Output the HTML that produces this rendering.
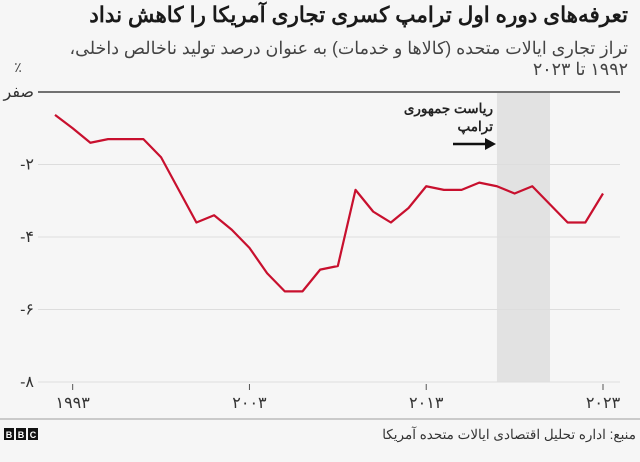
<!DOCTYPE html>
<html><head><meta charset="utf-8">
<style>
body{margin:0;background:#f6f6f6;width:640px;height:462px;overflow:hidden;font-family:"Liberation Sans","Noto Sans CJK SC",sans-serif;}
#wrap{position:relative;width:640px;height:462px;}
.t{position:absolute;right:12px;direction:rtl;text-align:right;white-space:nowrap;}
</style></head><body>
<div id="wrap">
<div class="t" style="top:3px;font-size:21.5px;font-weight:bold;color:#1a1a1a;">تعرفه‌های دوره اول ترامپ کسری تجاری آمریکا را کاهش نداد</div>
<div class="t" style="top:38px;font-size:17.5px;line-height:21px;color:#444;">تراز تجاری ایالات متحده (کالاها و خدمات) به عنوان درصد تولید ناخالص داخلی،<br>۱۹۹۲ تا ۲۰۲۳</div>
<svg id="chart" width="640" height="462" style="position:absolute;left:0;top:0"></svg>
</div>
<script>
const years=[1992,1993,1994,1995,1996,1997,1998,1999,2000,2001,2002,2003,2004,2005,2006,2007,2008,2009,2010,2011,2012,2013,2014,2015,2016,2017,2018,2019,2020,2021,2022,2023];
const balance=[-0.63,-1.0,-1.4,-1.3,-1.3,-1.3,-1.8,-2.7,-3.6,-3.4,-3.8,-4.3,-5.0,-5.5,-5.5,-4.9,-4.8,-2.7,-3.3,-3.6,-3.2,-2.6,-2.7,-2.7,-2.5,-2.6,-2.8,-2.6,-3.1,-3.6,-3.6,-2.8];
const yTicks=[0,-2,-4,-6,-8];
const yTickLabels=["صفر","-۲","-۴","-۶","-۸"];
const xTicks=[1993,2003,2013,2023];
const xTickLabels=["۱۹۹۳","۲۰۰۳","۲۰۱۳","۲۰۲۳"];
const trumpTerm=[2017,2020];
const NS="http://www.w3.org/2000/svg";
const svg=document.getElementById('chart');
const x=v=>55+(v-1992)*(603-55)/31;
const y=v=>92+(-v)*(382-92)/8;
function mk(tag,attrs,parent){const e=document.createElementNS(NS,tag);for(const k in attrs)e.setAttribute(k,attrs[k]);(parent||svg).appendChild(e);return e;}
const sh=mk('rect',{x:x(trumpTerm[0]),y:y(0)+1,width:x(trumpTerm[1])-x(trumpTerm[0]),height:y(-8)-y(0)-1,fill:'#e2e2e2'});


yTicks.forEach((t,i)=>{
  const g=mk('line',{x1:38,x2:620,y1:y(t),y2:y(t),stroke:t===0?'#222':'#ddd','stroke-width':t===0?1.3:1});
  
  
  const l=mk('text',{x:34,y:y(t)+5,'text-anchor':'end','font-size':16,fill:'#333'});
  l.textContent=yTickLabels[i];
  
  
});
const pc=mk('text',{x:18,y:72,'font-size':14,fill:'#444','text-anchor':'middle'});
pc.textContent='٪';


xTicks.forEach((t,i)=>{
  const tk=mk('line',{x1:x(t),x2:x(t),y1:384,y2:390,stroke:'#555'});
  
  
  const l=mk('text',{x:x(t),y:408,'text-anchor':'middle','font-size':16,fill:'#333'});
  l.textContent=xTickLabels[i];
  
  
});
const a1=mk('text',{x:493,y:113,'text-anchor':'start','font-size':13.5,'font-weight':'bold',fill:'#222',direction:'rtl'});
a1.textContent='ریاست جمهوری';


const a2=mk('text',{x:493,y:131,'text-anchor':'start','font-size':13.5,'font-weight':'bold',fill:'#222',direction:'rtl'});
a2.textContent='ترامپ';


const ar=mk('line',{x1:453,x2:486,y1:144,y2:144,stroke:'#111','stroke-width':2.5});


const ah=mk('polygon',{points:'485,138 496,144 485,150',fill:'#111'});


const pts=years.map((yr,i)=>x(yr)+','+y(balance[i])).join(' ');
const ln=mk('polyline',{points:pts,fill:'none',stroke:'#c8102e','stroke-width':2.2,'stroke-linejoin':'round'});


const fl=mk('line',{x1:0,x2:640,y1:419,y2:419,stroke:'#bbb','stroke-width':1.5});


const logo=mk('g',{});


['B','B','C'].forEach((c,i)=>{
  mk('rect',{x:4+i*12,y:428,width:10,height:12,fill:'#111'},logo);
  const tt=mk('text',{x:9+i*12,y:438,'text-anchor':'middle','font-size':9,'font-weight':'bold',fill:'#fff'},logo);
  tt.textContent=c;
});
const src=mk('text',{x:636,y:439,'text-anchor':'start','font-size':13.5,fill:'#333',direction:'rtl'});
src.textContent='منبع: اداره تحلیل اقتصادی ایالات متحده آمریکا';


</script>
</body></html>
